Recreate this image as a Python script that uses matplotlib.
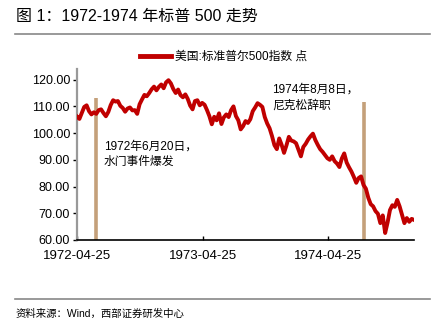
import matplotlib
matplotlib.use('Agg')
import matplotlib.pyplot as plt
import matplotlib.dates as mdates
import numpy as np
import pandas as pd

plt.rcParams['font.family'] = ['Liberation Sans', 'Noto Sans CJK SC']
plt.rcParams['axes.unicode_minus'] = False

# 标普500周度收盘（1972-04-25 起，每 7 天一个点）
start_date = '1972-04-25'
end_date = '1974-12-31'
spx = [106.2, 105.3, 107.5, 109.8, 110.4, 108.2, 107.0, 107.8, 107.2, 108.6,
       108.9, 107.5, 106.3, 107.9, 110.5, 112.3, 111.8, 112.0, 110.2, 109.4,
       108.0, 109.2, 109.6, 108.5, 108.6, 107.2, 110.8, 112.6, 114.3, 113.8,
       115.0, 116.4, 117.4, 116.0, 117.3, 118.2, 116.8, 119.0, 119.8, 118.6,
       116.5, 115.0, 116.3, 114.2, 113.4, 114.5, 112.8, 110.3, 108.9, 112.0,
       112.3, 110.4, 111.3, 110.6, 108.6, 106.3, 103.3, 106.1, 104.8, 107.4,
       103.4, 105.9, 107.0, 106.0, 108.6, 110.0, 106.4, 104.8, 101.4, 102.6,
       104.5, 103.8, 105.2, 108.2, 109.6, 111.2, 110.6, 109.8, 106.0, 103.6,
       101.8, 98.9, 95.5, 94.0, 98.0, 95.6, 92.6, 95.4, 98.6, 97.2,
       96.9, 96.2, 93.8, 91.3, 94.8, 96.0, 97.6, 98.8, 99.8, 97.4,
       95.6, 94.0, 93.0, 91.8, 90.6, 90.0, 91.3, 89.5, 88.6, 87.3,
       90.5, 92.4, 89.0, 87.2, 85.6, 83.6, 81.4, 83.2, 83.8, 80.6,
       79.2, 75.8, 73.4, 72.6, 70.8, 69.8, 66.3, 69.2, 62.6, 66.5,
       71.2, 73.0, 72.4, 75.0, 72.6, 69.4, 66.3, 68.2, 66.8, 67.9,
       67.5]
dates = pd.date_range(start_date, periods=len(spx), freq='7D')

# 事件标记
event_dates = pd.to_datetime(['1972-06-20', '1974-08-08'])
event_tops = [113.0, 111.5]
event_text = ['1972年6月20日，\n水门事件爆发', '1974年8月8日，\n尼克松辞职']
tick_dates = pd.to_datetime(['1972-04-25', '1973-04-25', '1974-04-25'])

fig = plt.figure(figsize=(4.4, 3.31), dpi=100)
ax = fig.add_axes([0.175, 0.275, 0.766, 0.5166])

ax.plot(dates, spx, color='#C00000', lw=2.8, label='美国:标准普尔500指数 点', zorder=3)
for d, top in zip(event_dates, event_tops):
    ax.plot([d, d], [60, top], color='#C4A07A', lw=2.6, solid_capstyle='butt', zorder=2)

ax.text(pd.Timestamp('1972-07-12'), 97.3, event_text[0], fontsize=8.5, va='top', linespacing=1.45)
ax.text(pd.Timestamp('1973-11-13'), 118.7, event_text[1], fontsize=8.5, va='top', linespacing=1.45)

ax.set_xlim(pd.Timestamp(start_date), pd.Timestamp(end_date))
ax.set_ylim(60, 124)
ax.set_yticks(np.arange(60, 121, 10))
ax.yaxis.set_major_formatter(matplotlib.ticker.FormatStrFormatter('%.2f'))
ax.set_xticks(tick_dates)
ax.xaxis.set_major_formatter(mdates.DateFormatter('%Y-%m-%d'))
ax.tick_params(axis='y', labelsize=9, length=3, width=1, direction='out', pad=2)
ax.tick_params(axis='x', labelsize=9.5, length=3, width=1, direction='in', pad=7)

for s in ['top', 'right']:
    ax.spines[s].set_visible(False)
ax.spines['left'].set_color('#999999')
ax.spines['left'].set_linewidth(1.6)
ax.spines['bottom'].set_linewidth(1.2)

ax.legend(loc='center', bbox_to_anchor=(0.435, 1.07), frameon=False, fontsize=8.5,
          handlelength=2.6, handletextpad=0.4, borderaxespad=0)
for line in ax.get_legend().get_lines():
    line.set_linewidth(3.5)

fig.text(0.036, 0.952, '图 1：1972-1974 年标普 500 走势', fontsize=11.5, va='center')
fig.add_artist(plt.Line2D([0.034, 0.977], [0.897, 0.897], color='#888888', lw=1.2))
fig.add_artist(plt.Line2D([0.034, 0.977], [0.097, 0.097], color='#888888', lw=1.2))
fig.text(0.036, 0.053, '资料来源：Wind，西部证券研发中心', fontsize=7.5, va='center')

fig.savefig('out.png', dpi=100)
